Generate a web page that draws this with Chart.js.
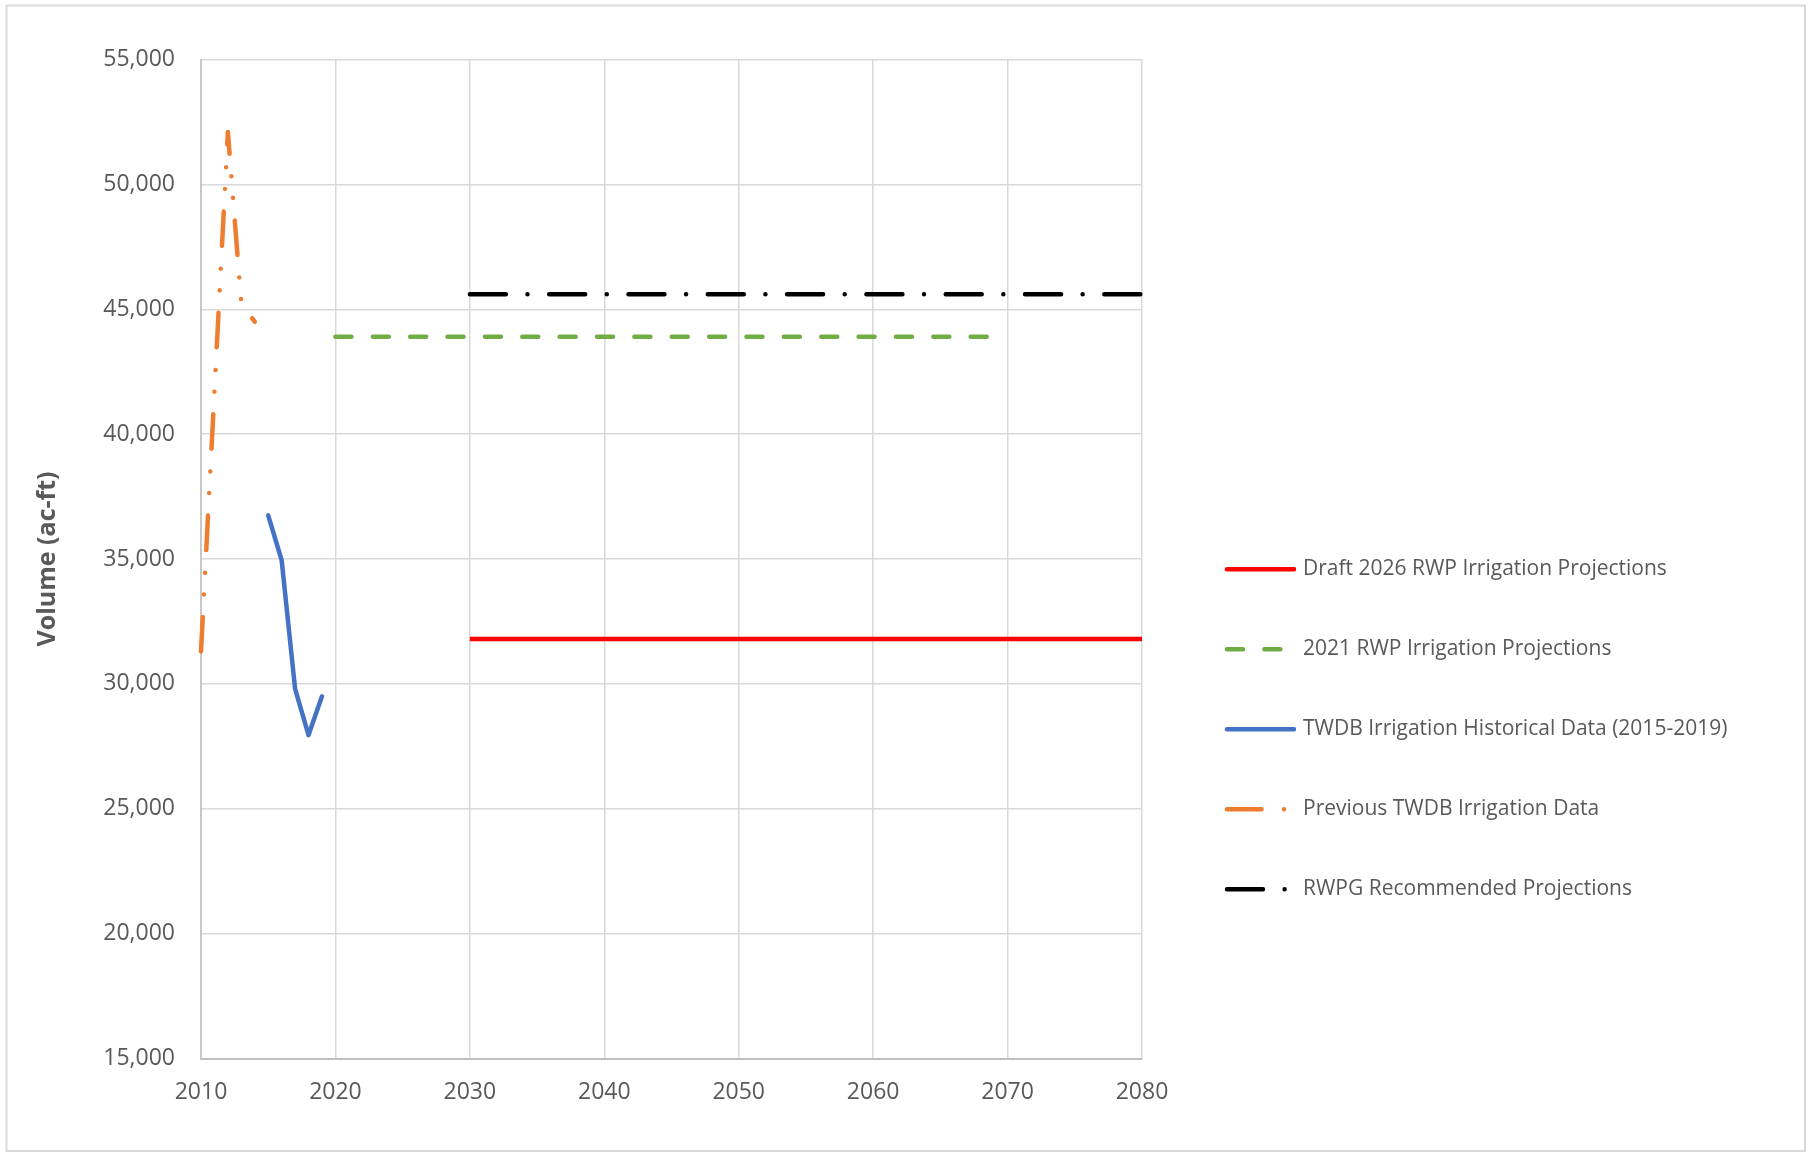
<!DOCTYPE html>
<html>
<head>
<meta charset="utf-8">
<title>Irrigation Projections</title>
<script src="https://cdn.jsdelivr.net/npm/chart.js@4.4.1/dist/chart.umd.min.js"></script>
<style>
  html, body { margin: 0; padding: 0; background: #ffffff; }
  #wrap { width: 1813px; height: 1153px; position: relative; }
</style>
</head>
<body>
<div id="wrap"><canvas id="chart" width="1813" height="1153"></canvas></div>
<script>
// ---- data ----
const seriesNames = [
  'Draft 2026 RWP Irrigation Projections',
  '2021 RWP Irrigation Projections',
  'TWDB Irrigation Historical Data (2015-2019)',
  'Previous TWDB Irrigation Data',
  'RWPG Recommended Projections'
];

const draftYears  = [2030, 2040, 2050, 2060, 2070, 2080];
const draftValues = [31800, 31800, 31800, 31800, 31800, 31800];

const rwp2021Years  = [2020, 2030, 2040, 2050, 2060, 2070];
const rwp2021Values = [43900, 43900, 43900, 43900, 43900, 43900];

const historicalYears  = [2015, 2016, 2017, 2018, 2019];
const historicalValues = [36750, 34950, 29800, 27950, 29500];

const previousYears  = [2010, 2011, 2012, 2013, 2014];
const previousValues = [31300, 41700, 52100, 45200, 44500];

const rwpgYears  = [2030, 2040, 2050, 2060, 2070, 2080];
const rwpgValues = [45600, 45600, 45600, 45600, 45600, 45600];

const xTicks = [2010, 2020, 2030, 2040, 2050, 2060, 2070, 2080];
const yTicks = [15000, 20000, 25000, 30000, 35000, 40000, 45000, 50000, 55000];

// ---- helpers ----
const toPoints = (xs, ys) => xs.map((x, i) => ({ x: x, y: ys[i] }));
const TEXT = '#595959';
const FONT = '"Open Sans", "DejaVu Sans", sans-serif';

const lineBase = {
  pointRadius: 0,
  pointHoverRadius: 0,
  borderWidth: 4.5,
  tension: 0,
  fill: false,
  clip: false,
  borderCapStyle: 'round',
  borderJoinStyle: 'round'
};

const datasets = [
  Object.assign({}, lineBase, {
    label: seriesNames[0],
    data: toPoints(draftYears, draftValues),
    borderColor: '#ff0000',
    borderCapStyle: 'butt',
    borderDash: []
  }),
  Object.assign({}, lineBase, {
    label: seriesNames[1],
    data: toPoints(rwp2021Years, rwp2021Values),
    borderColor: '#70ad47',
    borderDash: [16, 21.37]
  }),
  Object.assign({}, lineBase, {
    label: seriesNames[2],
    data: toPoints(historicalYears, historicalValues),
    borderColor: '#4472c4',
    borderDash: []
  }),
  Object.assign({}, lineBase, {
    label: seriesNames[3],
    data: toPoints(previousYears, previousValues),
    borderColor: '#ed7d31',
    borderDash: [34.5, 22.5, 0.01, 21.7, 0.01, 22.8]
  }),
  Object.assign({}, lineBase, {
    label: seriesNames[4],
    data: toPoints(rwpgYears, rwpgValues),
    borderColor: '#000000',
    borderDash: [36, 21.6, 0.01, 21.7]
  })
];

// Chart frame: white background with a thin grey outline
const framePlugin = {
  id: 'frame',
  beforeDraw(chart) {
    const ctx = chart.ctx;
    ctx.save();
    ctx.fillStyle = '#ffffff';
    ctx.fillRect(0, 0, chart.width, chart.height);
    ctx.strokeStyle = '#d9d9d9';
    ctx.lineWidth = 2;
    ctx.strokeRect(6.5, 5.5, 1798.5, 1145.5);
    ctx.restore();
  }
};

// Vertical legend on the right, one row per series
const sideLegendPlugin = {
  id: 'sideLegend',
  afterDraw(chart) {
    const ctx = chart.ctx;
    const x0 = 1225, x1 = 1296, textX = 1303;
    const rowTop = 569.3, rowGap = 80;
    ctx.save();
    chart.data.datasets.forEach((ds, i) => {
      const y = rowTop + i * rowGap;
      ctx.save();
      ctx.beginPath();
      ctx.rect(x0 - 4, y - 10, x1 - x0 + 4, 20);
      ctx.clip();
      ctx.strokeStyle = ds.borderColor;
      ctx.lineWidth = ds.borderWidth;
      ctx.lineCap = 'round';
      ctx.setLineDash(ds.borderDash || []);
      ctx.beginPath();
      ctx.moveTo(x0 + 2, y);
      ctx.lineTo(x1 - 2, y);
      ctx.stroke();
      ctx.restore();
      ctx.fillStyle = TEXT;
      ctx.font = '21px ' + FONT;
      ctx.textAlign = 'left';
      ctx.textBaseline = 'middle';
      ctx.fillText(ds.label, textX, y);
    });
    ctx.restore();
  }
};

new Chart(document.getElementById('chart'), {
  type: 'line',
  data: { datasets: datasets },
  plugins: [framePlugin, sideLegendPlugin],
  options: {
    responsive: false,
    animation: false,
    events: [],
    layout: { padding: { top: 59.5, right: 671, bottom: 0, left: 0 } },
    plugins: {
      legend: { display: false },
      tooltip: { enabled: false },
      title: { display: false }
    },
    scales: {
      x: {
        type: 'linear',
        min: xTicks[0],
        max: xTicks[xTicks.length - 1],
        afterBuildTicks(scale) { scale.ticks = xTicks.map(v => ({ value: v })); },
        afterFit(scale) { scale.height = 94.5; },
        ticks: {
          callback: v => String(v),
          color: TEXT,
          font: { family: FONT, size: 23 },
          padding: 20,
          maxRotation: 0
        },
        grid: { color: '#d9d9d9', lineWidth: 1.5, drawTicks: false },
        border: { color: '#bfbfbf', width: 2 }
      },
      y: {
        type: 'linear',
        min: yTicks[0],
        max: yTicks[yTicks.length - 1],
        afterBuildTicks(scale) { scale.ticks = yTicks.map(v => ({ value: v })); },
        afterFit(scale) { scale.width = 201; },
        ticks: {
          callback: v => Number(v).toLocaleString('en-US'),
          color: TEXT,
          font: { family: FONT, size: 23 },
          padding: 26
        },
        grid: { color: '#d9d9d9', lineWidth: 1.5, drawTicks: false },
        border: { color: '#c8c8c8', width: 2 },
        title: {
          display: true,
          text: 'Volume (ac-ft)',
          color: TEXT,
          font: { family: FONT, size: 25, weight: 'bold' },
          padding: { top: 33, bottom: 0 }
        }
      }
    }
  }
});
</script>
</body>
</html>
